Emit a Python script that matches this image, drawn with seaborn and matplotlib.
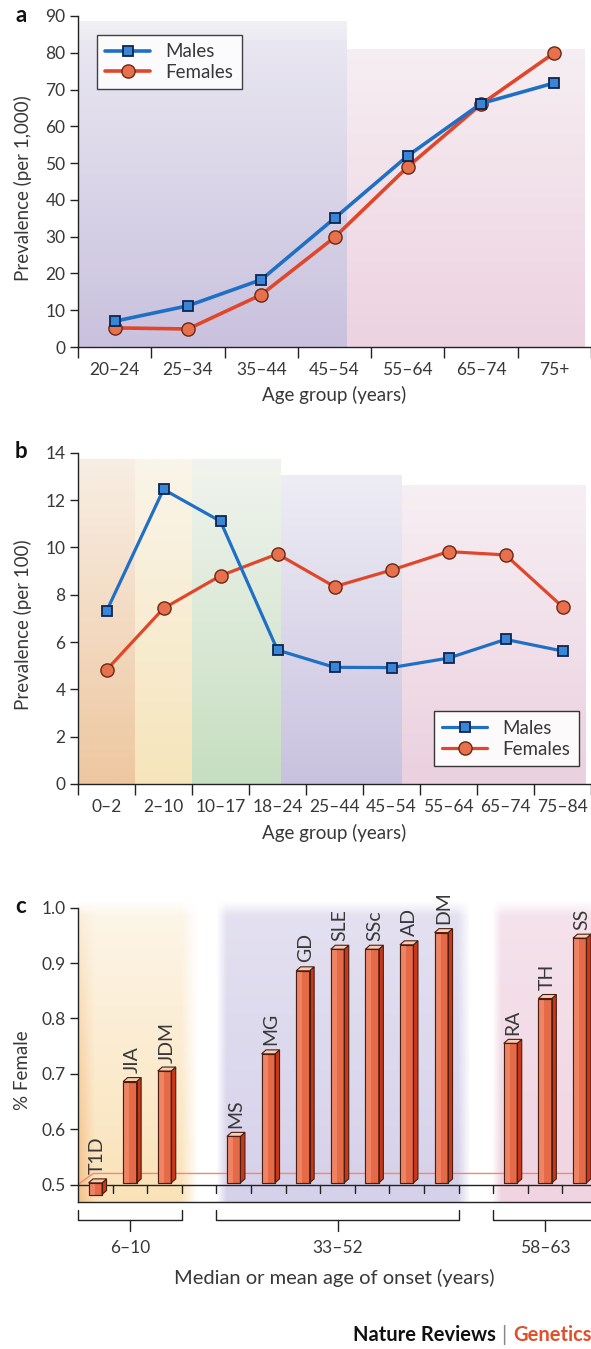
import numpy as np
import pandas as pd
import matplotlib
matplotlib.use("Agg")
import matplotlib.pyplot as plt
from matplotlib.colors import LinearSegmentedColormap, to_rgb
from matplotlib.patches import Polygon
import seaborn as sns

# ---------------- data ----------------
age_groups_a = ["20–24", "25–34", "35–44", "45–54", "55–64", "65–74", "75+"]
males_a = [7.0, 11.2, 18.3, 35.0, 52.0, 66.2, 71.8]
females_a = [5.2, 4.9, 14.2, 29.8, 49.0, 66.0, 80.0]

age_groups_b = ["0–2", "2–10", "10–17", "18–24", "25–44", "45–54", "55–64", "65–74", "75–84"]
males_b = [7.3, 12.45, 11.1, 5.66, 4.93, 4.92, 5.32, 6.11, 5.62]
females_b = [4.82, 7.42, 8.8, 9.72, 8.34, 9.04, 9.82, 9.68, 7.49]

diseases = ["T1D", "JIA", "JDM", "MS", "MG", "GD", "SLE", "SSc", "AD", "DM", "RA", "TH", "SS"]
female_share = [0.482, 0.686, 0.705, 0.587, 0.736, 0.886, 0.925, 0.925, 0.933, 0.955, 0.755, 0.836, 0.945]
onset_group = ["6–10"] * 3 + ["33–52"] * 7 + ["58–63"] * 3
onset_groups = ["6–10", "33–52", "58–63"]

yticks_a = [0, 10, 20, 30, 40, 50, 60, 70, 80, 90]
yticks_b = [0, 2, 4, 6, 8, 10, 12, 14]
yticks_c = [0.5, 0.6, 0.7, 0.8, 0.9, 1.0]
ytick_labels_c = ["0.5", "0.6", "0.7", "0.8", "0.9", "1.0"]

# ---------------- style ----------------
sns.set_style("ticks")
plt.rcParams["font.family"] = ["Lato", "DejaVu Sans"]
TXT = "#383838"
plt.rcParams.update({
    "axes.edgecolor": "#222222", "axes.linewidth": 1.0,
    "xtick.color": "#222222", "ytick.color": "#222222",
    "xtick.labelcolor": TXT, "ytick.labelcolor": TXT,
    "axes.labelcolor": TXT, "text.color": TXT,
})

W, H = 591, 1349
fig = plt.figure(figsize=(W / 100, H / 100), dpi=100)
fig.patch.set_facecolor("white")


def axes_px(left, right, top, bottom):
    return fig.add_axes([left / W, 1 - bottom / H, (right - left) / W, (bottom - top) / H])


BLUE_LINE = "#1f6fc4"
BLUE_FACE = "#3a86d6"
BLUE_EDGE = "#0f2550"
RED_LINE = "#e0472a"
RED_FACE = "#e8714d"
RED_EDGE = "#6a2814"


def vgrad(ax, x0, x1, y0, y1, top, bottom, z=0.1, clip=True):
    cmap = LinearSegmentedColormap.from_list("g", [bottom, top])
    arr = np.linspace(0, 1, 256).reshape(-1, 1)
    im = ax.imshow(arr, cmap=cmap, extent=[x0, x1, y0, y1], origin="lower",
                   aspect="auto", zorder=z, interpolation="bilinear")
    im.set_clip_on(clip)
    return im


def draw_lines(ax, cats, males, females, lw):
    df = pd.DataFrame({"age": cats, "Males": males, "Females": females})
    sns.lineplot(data=df, x="age", y="Males", ax=ax, sort=False, color=BLUE_LINE,
                 linewidth=lw, marker="s", markersize=7.5, markerfacecolor=BLUE_FACE,
                 markeredgecolor=BLUE_EDGE, markeredgewidth=1.3, label="Males",
                 errorbar=None, zorder=5)
    sns.lineplot(data=df, x="age", y="Females", ax=ax, sort=False, color=RED_LINE,
                 linewidth=lw, marker="o", markersize=9.5, markerfacecolor=RED_FACE,
                 markeredgecolor=RED_EDGE, markeredgewidth=1.0, label="Females",
                 errorbar=None, zorder=4)


def style_line_axes(ax, cats, yticks, ylabel, xmax):
    n = len(cats)
    ax.set_xlim(-0.5, xmax)
    ax.set_ylim(yticks[0], yticks[-1])
    ax.set_yticks(yticks)
    ax.set_xticks(range(n))
    ax.set_xticklabels(cats)
    ax.set_xticks([i - 0.5 for i in range(n + 1)], minor=True)
    ax.tick_params(axis="x", which="major", length=0, pad=11, labelsize=12.5)
    ax.tick_params(axis="x", which="minor", length=8, width=1.0, direction="out")
    ax.tick_params(axis="y", length=6, width=1.0, labelsize=12.5, pad=3)
    sns.despine(ax=ax)
    ax.set_ylabel(ylabel, fontsize=13.5)
    ax.yaxis.label.set_va("center")
    ax.yaxis.set_label_coords(-0.108, 0.48)
    ax.set_xlabel("Age group (years)", fontsize=13.5)
    ax.xaxis.label.set_va("center")
    ax.set_facecolor("none")


def style_legend(leg, alpha):
    fr = leg.get_frame()
    fr.set_edgecolor("#222222")
    fr.set_linewidth(1.0)
    fr.set_facecolor("white")
    fr.set_alpha(alpha)


# ---------------- panel a ----------------
axa = axes_px(78, 591, 16, 347)
draw_lines(axa, age_groups_a, males_a, females_a, 2.6)
xmax_a = (591 - 78) / 74.3 - 0.5
vgrad(axa, -0.5, 3.17, 0, 83.5, "#e9e7f1", "#c9c1de")
vgrad(axa, -0.5, 3.17, 83.5, 88.4, "#f1f0f5", "#ecebf2")
vgrad(axa, 3.17, xmax_a, 0, 80.8, "#f6eef2", "#edd2e0")
style_line_axes(axa, age_groups_a, yticks_a, "Prevalence (per 1,000)", xmax_a)
axa.xaxis.set_label_coords(0.5, -0.145)
leg = axa.legend(loc="upper left", bbox_to_anchor=(0.037, 0.943), borderaxespad=0,
                 fontsize=13.5, frameon=True, fancybox=False, handlelength=2.4,
                 handletextpad=0.8, borderpad=0.45, labelspacing=0.2)
style_legend(leg, 0.85)

# ---------------- panel b ----------------
axb = axes_px(78, 591, 452.7, 784)
draw_lines(axb, age_groups_b, males_b, females_b, 2.3)
xmax_b = (591 - 78) / 57.7 - 0.5
bands = [(-0.5, 0.5, 13.7, "#f8eee4", "#eec7a0"),
         (0.5, 1.5, 13.7, "#faf5ea", "#f6e5bb"),
         (1.5, 3.06, 13.7, "#f1f4ee", "#c6dec1"),
         (3.06, 5.18, 13.05, "#eeedf5", "#c9c2df"),
         (5.18, xmax_b, 12.6, "#f7eff3", "#ebd0df")]
for x0, x1, top, ctop, cbot in bands:
    vgrad(axb, x0, x1, 0, top, ctop, cbot)
style_line_axes(axb, age_groups_b, yticks_b, "Prevalence (per 100)", xmax_b)
axb.xaxis.set_label_coords(0.5, -0.148)
leg = axb.legend(loc="lower right", bbox_to_anchor=(0.976, 0.054), borderaxespad=0,
                 fontsize=13.5, frameon=True, fancybox=False, handlelength=2.4,
                 handletextpad=0.8, borderpad=0.45, labelspacing=0.2)
style_legend(leg, 0.9)

# ---------------- panel c ----------------
axc = axes_px(78, 591, 907.7, 1201.7)
BASE = 0.503
order = []
for g in onset_groups:
    order += [d for d, gg in zip(diseases, onset_group) if gg == g]
    if g != onset_groups[-1]:
        order.append("gap_" + g)
pos = {name: i for i, name in enumerate(order)}
dfc = pd.DataFrame({"disease": diseases, "share": female_share, "group": onset_group})
dfc["height"] = dfc["share"] - BASE
sns.barplot(data=dfc, x="disease", y="height", order=order, ax=axc, bottom=BASE,
            width=0.39, color="#e56a47", saturation=1, edgecolor="#4a1e10",
            linewidth=0.8, zorder=3, errorbar=None)
y_lo, y_hi = 0.469, 1.0
xmax_c = (591 - 78) / 34.6 - 0.5
axc.set_xlim(-0.5, xmax_c)
axc.set_ylim(y_lo, y_hi)

dx, dy = 0.13, 0.0072
bars = list(axc.patches)
for p in bars:
    x0 = p.get_x()
    w = p.get_width()
    y0 = p.get_y()
    h = p.get_height()
    yb, yt = min(y0, y0 + h), max(y0, y0 + h)
    x1 = x0 + w
    sheen = Polygon([(x0, yb), (x0 + w * 0.45, yb), (x0 + w * 0.45, yt), (x0, yt)],
                    closed=True, facecolor="#ee8463", edgecolor="none", lw=0, zorder=3.1)
    side = Polygon([(x1, yb), (x1 + dx, yb + dy), (x1 + dx, yt + dy), (x1, yt)],
                   closed=True, facecolor="#c9381b", edgecolor="#4a1e10", lw=0.8, zorder=3.2)
    topf = Polygon([(x0, yt), (x0 + dx, yt + dy), (x1 + dx, yt + dy), (x1, yt)],
                   closed=True, facecolor="#f8cdb6", edgecolor="#4a1e10", lw=0.8, zorder=3.2)
    outline = Polygon([(x0, yb), (x1, yb), (x1, yt), (x0, yt)], closed=True,
                      facecolor="none", edgecolor="#4a1e10", lw=0.8, zorder=3.3)
    for patch in (sheen, side, topf, outline):
        axc.add_patch(patch)

for name, val in zip(diseases, female_share):
    xc = pos[name] + dx / 2
    yt = max(val, BASE) + dy
    axc.text(xc, yt + 0.008, name, rotation=90, ha="center", va="bottom",
             fontsize=14, color=TXT, zorder=6)


def region(ax, x0, x1, y0, y1, top_col, bot_col, corner_col=None, corner_w=0.12,
           fade_l=0.06, fade_r=0.12, fade_t=0.05, z=0.1):
    nx, ny = 200, 120
    t = np.linspace(0, 1, nx)
    v = np.linspace(0, 1, ny)
    tc, bc = np.array(to_rgb(top_col)), np.array(to_rgb(bot_col))
    rgb = bc[None, None, :] * (1 - v[:, None, None]) + tc[None, None, :] * v[:, None, None]
    rgb = np.repeat(rgb, nx, axis=1)
    if corner_col is not None:
        cc = np.array(to_rgb(corner_col))
        wgt = np.clip(1 - t / corner_w, 0, 1)[None, :] * np.clip(1 - v * 0.9, 0, 1)[:, None]
        rgb = rgb * (1 - wgt[:, :, None]) + cc[None, None, :] * wgt[:, :, None]
    img = np.ones((ny, nx, 4))
    img[:, :, :3] = rgb
    ax_alpha = np.ones(nx)
    if fade_l > 0:
        ax_alpha = np.minimum(ax_alpha, np.clip(t / fade_l, 0, 1))
    if fade_r > 0:
        ax_alpha = np.minimum(ax_alpha, np.clip((1 - t) / fade_r, 0, 1))
    ay = np.clip((1 - v) / fade_t, 0, 1)
    img[:, :, 3] = ay[:, None] * ax_alpha[None, :]
    im = ax.imshow(img, extent=[x0, x1, y0, y1], origin="lower", aspect="auto",
                   zorder=z, interpolation="bilinear")
    im.set_clip_on(False)


y_top_shade = 1.013
region(axc, -0.5, 2.95, y_lo, y_top_shade, "#fdf6ea", "#fae2b8", corner_col="#f3c088",
       corner_w=0.14, fade_l=0.0, fade_r=0.14)
region(axc, 3.5, 10.86, y_lo, y_top_shade, "#e4e1f1", "#d6d1ea", fade_l=0.04, fade_r=0.05)
region(axc, 11.47, xmax_c + 0.5, y_lo, y_top_shade, "#f5e3ec", "#f0d4e1",
       fade_l=0.08, fade_r=0.0)

axc.axhline(0.5, color="#222222", lw=1.0, zorder=2)
axc.plot([-0.5, -0.06, xmax_c], [0.5, 0.52, 0.52], color="#ef8a70", lw=1.0, zorder=1.5)
for k in range(len(order)):
    axc.plot([k + 0.5, k + 0.5], [0.5, 0.484], color="#222222", lw=1.0, zorder=2)

axc.set_yticks(yticks_c)
axc.set_yticklabels(ytick_labels_c)
axc.set_xticks([])
axc.set_xlabel("")
axc.tick_params(axis="y", length=6, width=1.0, labelsize=12.5, pad=3)
sns.despine(ax=axc)
axc.spines["left"].set_bounds(y_lo, 1.0)
axc.set_ylabel("% Female", fontsize=13.5)
axc.yaxis.label.set_va("center")
axc.yaxis.set_label_coords(-0.108, 0.448)
axc.set_facecolor("none")

yb_line, yb_end, yb_tick, yb_lab = 0.4354, 0.4535, 0.416, 0.385
for g in onset_groups:
    members = [pos[d] for d, gg in zip(diseases, onset_group) if gg == g]
    a0, a1 = min(members) - 0.5, max(members) + 0.5
    mid = (a0 + a1) / 2
    axc.plot([a0, a0, a1, a1], [yb_end, yb_line, yb_line, yb_end], color="#222222",
             lw=1.0, clip_on=False)
    axc.plot([mid, mid], [yb_line, yb_tick], color="#222222", lw=1.0, clip_on=False)
    axc.text(mid, yb_lab, g, ha="center", va="center", fontsize=12.5, color=TXT,
             clip_on=False)
axc.text(0.5, -0.26, "Median or mean age of onset (years)", transform=axc.transAxes,
         ha="center", va="center", fontsize=14.5, color=TXT)

for letter, ybase in [("a", 22), ("b", 458), ("c", 913)]:
    fig.text(15 / W, 1 - ybase / H, letter, fontsize=16, fontweight="bold",
             color="#111111", ha="left", va="baseline")

fig.text(353 / W, 1 - 1335 / H, "Nature Reviews", fontsize=14.5, fontweight="bold",
         color="#111111", ha="left", va="center")
fig.text(504 / W, 1 - 1335 / H, "|", fontsize=15, color="#888888", ha="center", va="center")
fig.text(513 / W, 1 - 1335 / H, "Genetics", fontsize=14.5, fontweight="bold",
         color="#e0502a", ha="left", va="center")

fig.savefig("out.png", dpi=100, facecolor="white")
